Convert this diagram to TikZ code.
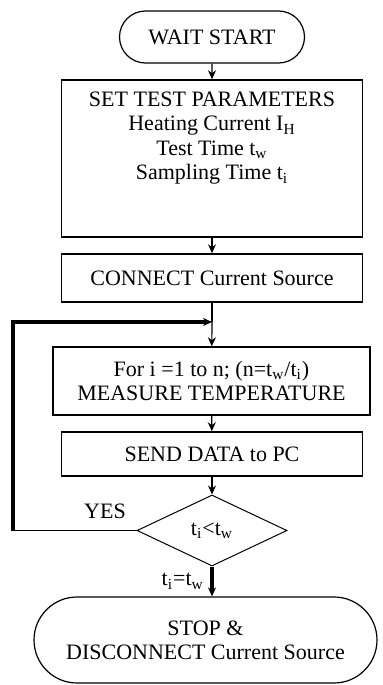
\documentclass[tikz,border=0pt]{standalone}
\usepackage{fontspec}
\setmainfont{Liberation Serif}
\usetikzlibrary{positioning,arrows.meta,shapes.geometric,shapes.misc}
\tikzset{
	flow/.style={>={Stealth[length=4.5pt,width=4pt]},line width=0.6pt,
		font=\fontsize{11}{12.2}\selectfont},
	terminal/.style={rounded rectangle,draw,line width=0.6pt,inner sep=2pt},
	process/.style={rectangle,draw,line width=0.75pt,minimum width=150.5pt,align=center},
	decision/.style={diamond,draw,line width=0.5pt,minimum width=75pt,minimum height=35.5pt,
		inner sep=0pt},
	loopline/.style={line width=1.6pt}
}

\begin{document}
\begin{tikzpicture}[flow,x=0.5pt,y=-0.5pt]
	\useasboundingbox (0,0) rectangle (383,685);
	
	\node[terminal,minimum width=96.5pt,minimum height=26pt] (wait) at (212,37) {WAIT START};
	\node[process,minimum height=78.5pt,inner sep=0pt] (set) at (212,158.5)
		{\parbox[c][78.5pt][t]{150pt}{\centering\vspace{6pt}SET TEST PARAMETERS\\
		Heating Current I\textsubscript{H}\\ Test Time t\textsubscript{w}\\
		Sampling Time t\textsubscript{i}}};
	\node[process,minimum height=24pt] (conn) at (212,278) {CONNECT Current Source};
	\node[process,minimum width=158.5pt,minimum height=34pt] (meas) at (211.5,381)
		{For i =1 to n; (n=t\textsubscript{w}/t\textsubscript{i})\\ MEASURE TEMPERATURE};
	\node[process,minimum height=22pt] (send) at (212,454) {SEND DATA to PC};
	\node[decision] (test) at (212,530.5) {t\textsubscript{i}<t\textsubscript{w}};
	\node[terminal,minimum width=175.5pt,minimum height=43pt,align=center] (stop) at (205.5,640)
		{STOP \&\\ DISCONNECT Current Source};
	
	\coordinate (merge) at (212,322);
	\coordinate (back) at (13,530.5);
	\node (yes) at (105,511) {YES};
	
	\path[->] (wait) edge (set);
	\path[->] (set) edge (conn);
	\draw (conn) -- (merge);
	\draw[->] (merge) -- (meas);
	\path[->] (meas) edge (send);
	\path[->] (send) edge (test);
	\draw[->,loopline] (test.south) -- node[left,font=\fontsize{11}{12}\selectfont]
		{t\textsubscript{i}=t\textsubscript{w}} (test.south |- stop.north);
	\draw (test.west) -- (back);
	\draw[->,loopline] (back) |- (merge);
\end{tikzpicture}
\end{document}
